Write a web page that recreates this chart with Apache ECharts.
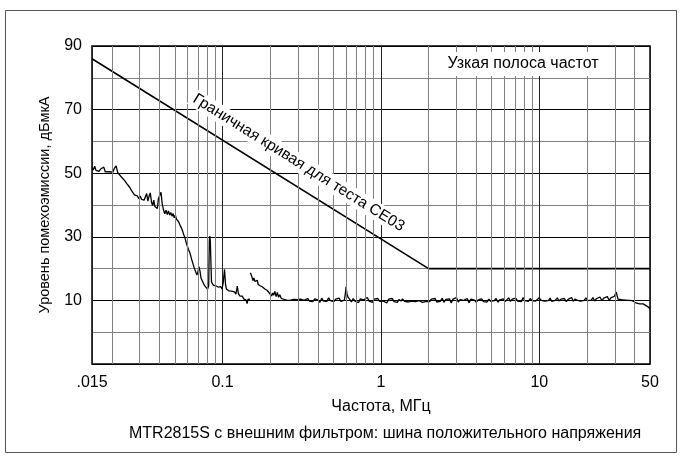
<!DOCTYPE html>
<html>
<head>
<meta charset="utf-8">
<script src="https://cdn.jsdelivr.net/npm/echarts@6/dist/echarts.min.js"></script>
<style>
  html, body { margin: 0; padding: 0; background: #fff; }
  #chart { width: 682px; height: 463px; }
</style>
</head>
<body>
<div id="chart"></div>
<script>
// частоты (МГц) и уровень (дБмкА)
var freqLow = [0.0150,0.0153,0.0156,0.0159,0.0162,0.0166,0.0170,0.0174,0.0178,0.0182,0.0187,0.0192,0.0197,0.0203,0.0208,0.0213,0.0218,0.0224,0.0230,0.0236,0.0242,0.0248,0.0254,0.0260,0.0266,0.0272,0.0278,0.0284,0.0290,0.0296,0.0302,0.0308,0.0314,0.0320,0.0326,0.0332,0.0338,0.0344,0.0350,0.0356,0.0362,0.0368,0.0374,0.0380,0.0388,0.0394,0.0409,0.0416,0.0424,0.0432,0.0440,0.0448,0.0456,0.0464,0.0472,0.0480,0.0488,0.0496,0.0504,0.0512,0.0520,0.0530,0.0540,0.0550,0.0560,0.0570,0.0580,0.0590,0.0600,0.0610,0.0624,0.0638,0.0651,0.0665,0.0678,0.0690,0.0700,0.0710,0.0721,0.0732,0.0745,0.0760,0.0775,0.0790,0.0805,0.0818,0.0826,0.0832,0.0838,0.0845,0.0852,0.0860,0.0875,0.0890,0.0905,0.0920,0.0937,0.0955,0.0975,0.0993,0.1010,0.1030,0.1045,0.1060,0.1080,0.1100,0.1120,0.1140,0.1165,0.1190,0.1215,0.1240,0.1260,0.1285,0.1310,0.1335,0.1360,0.1385,0.1410,0.1430,0.1450,0.1470,0.1490];
var levelLow = [51.8,51.0,52.2,50.9,51.5,50.6,51.3,50.8,51.9,50.4,51.0,50.5,50.9,50.3,51.6,52.3,50.2,49.6,48.8,48.2,47.6,46.8,46.2,45.5,44.6,43.9,43.2,42.6,42.9,42.0,42.8,41.8,42.4,41.5,42.6,43.6,41.2,42.8,43.8,41.0,39.8,41.5,39.5,39.3,38.9,42.0,44.0,40.5,38.5,37.2,38.4,37.0,38.1,36.8,37.6,36.5,37.3,36.0,36.8,35.6,35.2,34.6,33.6,32.8,31.8,30.6,29.6,28.2,27.0,26.0,24.8,23.0,21.5,20.0,18.9,18.0,19.0,20.6,19.2,17.0,16.2,15.2,14.5,14.0,13.6,14.6,29.0,30.2,28.5,22.0,15.8,15.2,14.8,15.4,14.6,15.0,14.2,13.8,14.3,13.6,15.5,19.8,15.0,13.5,13.9,13.0,12.6,12.9,12.3,12.7,12.0,14.5,12.2,11.4,11.0,11.3,10.5,10.8,10.1,9.0,10.4,10.0,10.3];

var freqHigh = [0.150,0.152,0.154,0.156,0.158,0.160,0.162,0.164,0.166,0.168,0.170,0.173,0.176,0.179,0.182,0.185,0.188,0.191,0.194,0.197,0.200,0.204,0.207,0.210,0.214,0.218,0.222,0.226,0.230,0.235,0.240,0.245,0.250,0.256,0.262,0.268,0.275,0.282,0.289,0.296,0.304,0.312,0.320,0.328,0.336,0.345,0.354,0.363,0.372,0.382,0.392,0.402,0.412,0.423,0.434,0.445,0.456,0.468,0.480,0.492,0.505,0.518,0.531,0.545,0.559,0.573,0.588,0.596,0.603,0.610,0.620,0.636,0.652,0.669,0.686,0.704,0.722,0.741,0.760,0.780,0.800,0.821,0.842,0.864,0.886,0.909,0.933,0.957,0.982,1.01,1.03,1.06,1.09,1.12,1.15,1.18,1.21,1.24,1.27,1.30,1.34,1.37,1.41,1.45,1.49,1.53,1.57,1.61,1.65,1.69,1.74,1.78,1.83,1.88,1.93,1.98,2.03,2.08,2.14,2.20,2.25,2.31,2.37,2.44,2.50,2.57,2.64,2.71,2.78,2.85,2.93,3.00,3.08,3.16,3.25,3.33,3.42,3.51,3.60,3.70,3.80,3.90,4.00,4.11,4.22,4.33,4.44,4.56,4.68,4.81,4.93,5.06,5.20,5.34,5.48,5.62,5.77,5.92,6.08,6.24,6.41,6.58,6.75,6.93,7.11,7.30,7.50,7.70,7.90,8.11,8.32,8.54,8.77,9.00,9.24,9.48,9.73,9.99,10.3,10.5,10.8,11.1,11.4,11.7,12.0,12.3,12.6,13.0,13.3,13.7,14.0,14.4,14.8,15.2,15.6,16.0,16.4,16.8,17.3,17.7,18.2,18.7,19.2,19.7,20.2,20.7,21.3,21.8,22.4,23.0,23.6,24.2,24.9,25.5,26.2,26.9,27.6,28.3,29.1,29.8,30.6,31.4,32.3,33.1,34.0,34.9,35.8,36.8,37.7,38.7,39.8,40.8,41.9,43.0,44.2,45.3,46.5,47.8,49.0,50.0];
var levelHigh = [18.7,18.0,17.6,16.2,17.1,16.0,16.6,15.4,16.3,15.0,15.6,14.6,15.1,14.2,14.7,13.6,14.0,13.2,13.6,12.4,13.0,11.4,12.3,11.6,12.8,11.2,12.5,11.0,11.8,10.6,11.0,10.3,10.7,10.0,10.4,10.1,9.6,10.3,9.8,10.2,9.7,10.4,9.9,10.0,9.5,10.6,9.8,10.2,9.6,10.5,9.9,10.1,9.4,10.7,9.8,10.3,9.7,10.8,9.9,10.2,9.6,10.4,10.0,10.7,9.7,10.3,10.1,12.0,14.3,12.2,11.0,10.3,9.5,10.6,9.8,10.2,9.3,10.5,9.9,10.2,9.6,10.9,9.8,10.1,9.4,10.4,9.9,10.6,9.7,10.3,9.8,10.0,9.2,10.4,9.9,10.6,9.6,10.1,9.4,10.3,9.8,10.5,9.7,10.2,9.5,10.0,9.8,10.4,9.6,10.1,9.9,10.3,9.4,10.0,9.7,10.2,9.6,10.4,9.8,10.6,9.5,10.1,9.7,10.7,9.4,10.3,9.8,10.5,9.2,10.4,9.9,10.9,9.5,10.2,9.6,10.0,9.7,10.6,9.3,10.4,9.8,10.1,9.4,10.2,9.9,10.5,9.6,10.0,9.5,10.4,9.7,10.3,9.9,10.6,9.4,10.2,9.8,10.5,9.6,10.1,10.8,9.7,10.4,9.9,10.7,9.8,10.2,9.6,10.9,9.9,10.3,9.7,10.6,9.9,10.4,9.8,10.2,10.8,10.0,10.6,9.8,10.3,9.9,10.7,9.7,10.2,10.0,10.8,9.8,10.4,9.9,10.6,9.6,10.3,10.0,10.9,9.7,10.4,10.1,10.7,9.8,10.3,10.0,10.8,9.9,10.5,10.1,10.9,9.8,10.6,10.2,11.0,9.9,10.7,10.2,11.2,10.0,10.8,10.3,11.3,12.6,10.4,10.9,10.2,10.8,10.1,10.5,10.0,10.4,9.9,9.6,9.2,9.4,8.9,8.7,8.9,8.3,8.2,7.8,7.5];

// граничная кривая CE03
var limitFreq = [0.015, 2, 50];
var limitLevel = [86, 20, 20];

// подписи и сетка
var xTickLabels = [0.015, 0.1, 1, 10, 50];
var yTickLabels = [10, 30, 50, 70, 90];
var xMinorGrid = [0.02,0.03,0.04,0.05,0.06,0.07,0.08,0.09,0.2,0.3,0.4,0.5,0.6,0.7,0.8,0.9,2,3,4,5,6,7,8,9,20,30,40];

var FONT = 'Liberation Sans, Arial, sans-serif';

function pairs(xs, ys) {
  var out = [];
  for (var i = 0; i < xs.length; i++) out.push([xs[i], ys[i]]);
  return out;
}

var traceData = pairs(freqLow, levelLow);
traceData.push([0.1495, null]); // разрыв между диапазонами
traceData = traceData.concat(pairs(freqHigh, levelHigh));

var chart = echarts.init(document.getElementById('chart'));
chart.setOption({
  animation: false,
  backgroundColor: '#fff',
  title: {
    text: 'MTR2815S с внешним фильтром: шина положительного напряжения',
    left: 124,
    top: 421,
    textStyle: { fontFamily: FONT, fontSize: 16, fontWeight: 'normal', color: '#000' }
  },
  grid: {
    left: 92, right: 32, top: 46, bottom: 99,
    show: true, borderColor: '#000', borderWidth: 1.5, backgroundColor: 'transparent'
  },
  xAxis: {
    type: 'log',
    logBase: 10,
    min: 0.015,
    max: 50,
    name: 'Частота, МГц',
    nameLocation: 'middle',
    nameGap: 35,
    nameTextStyle: { fontFamily: FONT, fontSize: 16, color: '#000', padding: [0, 0, 0, 20] },
    axisLine: { show: false },
    axisTick: { show: false },
    axisLabel: {
      customValues: xTickLabels,
      margin: 11,
      fontFamily: FONT, fontSize: 16, color: '#000',
      formatter: function (v) { return v < 0.02 ? '.015' : String(+v.toPrecision(4)); }
    },
    splitLine: { show: true, lineStyle: { color: '#222', width: 1 } }
  },
  yAxis: {
    type: 'value',
    min: -10,
    max: 90,
    interval: 20,
    name: 'Уровень помехоэмиссии, дБмкА',
    nameLocation: 'middle',
    nameGap: 40,
    nameTextStyle: { fontFamily: FONT, fontSize: 14.5, color: '#000' },
    axisLine: { show: false },
    axisTick: { show: false },
    axisLabel: {
      customValues: yTickLabels,
      margin: 10,
      fontFamily: FONT, fontSize: 16, color: '#000'
    },
    splitLine: { show: true, lineStyle: { color: '#000', width: 1 } },
    minorTick: { show: false, splitNumber: 2 },
    minorSplitLine: { show: true, lineStyle: { color: '#808080', width: 1 } }
  },
  series: [
    {
      name: 'grid',
      type: 'line',
      data: [[0.015, -10]],
      showSymbol: false,
      silent: true,
      lineStyle: { opacity: 0 },
      markLine: {
        silent: true,
        symbol: 'none',
        label: { show: false },
        lineStyle: { color: '#808080', width: 1, type: 'solid' },
        data: xMinorGrid.map(function (v) { return { xAxis: v }; })
      }
    },
    {
      name: 'Граничная кривая',
      type: 'line',
      data: pairs(limitFreq, limitLevel),
      showSymbol: false,
      lineStyle: { color: '#000', width: 1.6 }
    },
    {
      name: 'Уровень',
      type: 'line',
      data: traceData,
      showSymbol: false,
      connectNulls: false,
      lineStyle: { color: '#000', width: 1.3 }
    }
  ]
});

// подписи поверх сетки
var p1 = chart.convertToPixel({ gridIndex: 0 }, [limitFreq[0], limitLevel[0]]);
var p2 = chart.convertToPixel({ gridIndex: 0 }, [limitFreq[1], limitLevel[1]]);
var dx = p2[0] - p1[0], dy = p2[1] - p1[1];
var len = Math.sqrt(dx * dx + dy * dy);
var ux = dx / len, uy = dy / len;
var nx = uy, ny = -ux;
var cx = (p1[0] + p2[0]) / 2 + ux * 32 + nx * 21;
var cy = (p1[1] + p2[1]) / 2 + uy * 32 + ny * 21;

chart.setOption({
  graphic: [
    {
      type: 'rect',
      shape: { x: 5.5, y: 10.5, width: 671, height: 442 },
      style: { fill: 'none', stroke: '#555', lineWidth: 1 },
      z: 0, silent: true
    },
    {
      type: 'text',
      x: 523, y: 64,
      z: 100,
      style: {
        text: 'Узкая полоса частот',
        font: '16px ' + FONT,
        fill: '#000',
        align: 'center',
        verticalAlign: 'middle',
        backgroundColor: '#fff',
        padding: [4, 7]
      }
    },
    {
      type: 'text',
      x: cx, y: cy,
      rotation: -Math.atan2(dy, dx),
      z: 100,
      style: {
        text: 'Граничная кривая для теста CE03',
        font: '15.5px ' + FONT,
        fill: '#000',
        align: 'center',
        verticalAlign: 'middle',
        backgroundColor: '#fff',
        padding: [1, 3]
      }
    }
  ]
});
</script>
</body>
</html>
